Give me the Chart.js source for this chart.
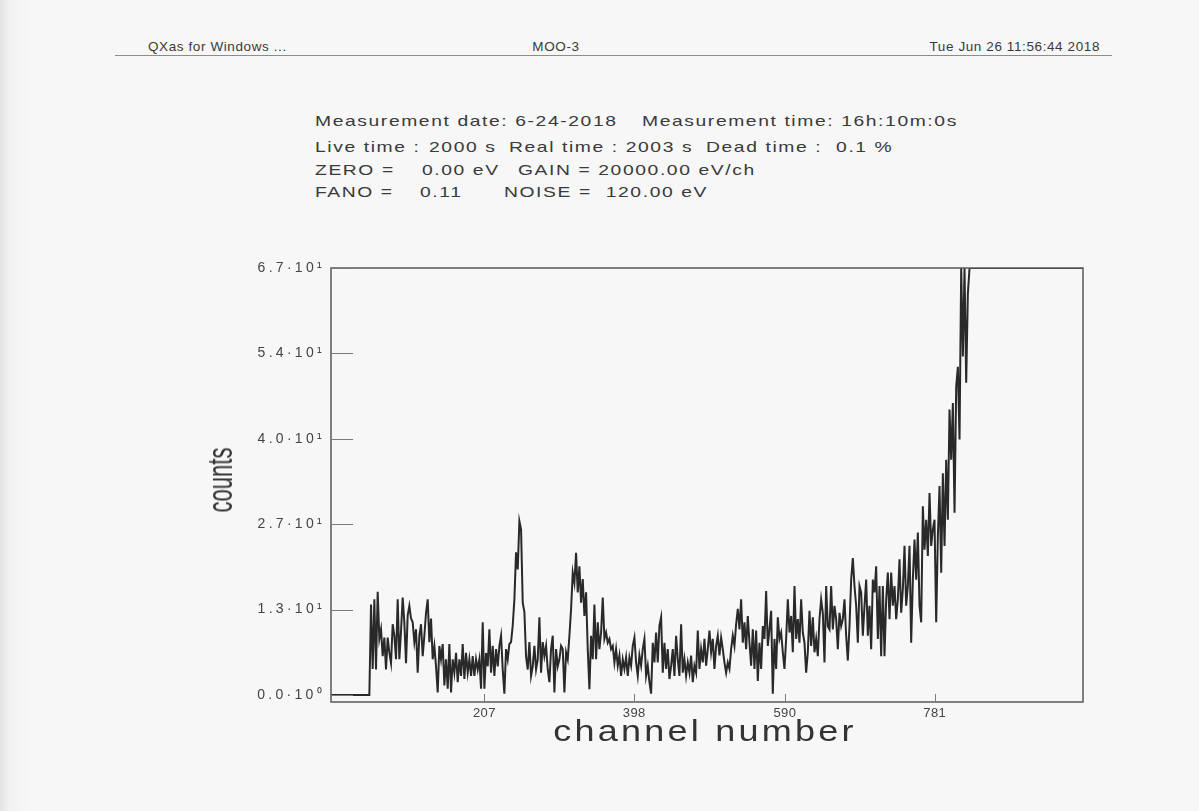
<!DOCTYPE html>
<html>
<head>
<meta charset="utf-8">
<script src="https://cdn.jsdelivr.net/npm/chart.js@4.4.1/dist/chart.umd.min.js"></script>
<style>
body { margin: 0; background: #f6f7f6; }
#hoja { position: relative; width: 1199px; height: 811px; overflow: hidden;
        font-family: "Liberation Sans", Arial, sans-serif; color: #3a3a3a;
        background: linear-gradient(to right, #e2e3e2 0, #f1f2f1 10px, #f6f7f6 30px); }
#hoja canvas { position: absolute; left: 0; top: 0; }
.t { position: absolute; white-space: pre; line-height: 16px; }
.cab { font-size: 13.5px; letter-spacing: 0.6px; top: 39px; }
.info { font-size: 14.5px; letter-spacing: 1.2px; transform: scaleX(1.33); transform-origin: 0 50%; }
.linea { position: absolute; left: 115px; top: 55px; width: 997px; border-top: 1.5px solid #8c8c8c; }
#tituloY { position: absolute; left: 220px; top: 480px; font-size: 35px; color: #333; white-space: pre;
           transform: translate(-50%, -50%) rotate(-90deg) scaleX(0.63); }
#tituloX { position: absolute; left: 705px; top: 731px; font-size: 30px; color: #333; letter-spacing: 2.7px; white-space: pre;
           transform: translate(-50%, -50%) scaleX(1.2); }
</style>
</head>
<body>
<div id="hoja">
  <div class="t cab" style="left:148px">QXas for Windows ...</div>
  <div class="t cab" style="left:556px; transform:translateX(-50%)">MOO-3</div>
  <div class="t cab" style="right:99px">Tue Jun 26 11:56:44 2018</div>
  <div class="linea"></div>

  <div class="t info" style="left:315px; top:113px">Measurement date: 6-24-2018</div>
  <div class="t info" style="left:642px; top:113px">Measurement time: 16h:10m:0s</div>
  <div class="t info" style="left:315px; top:139px">Live time :</div>
  <div class="t info" style="left:429px; top:139px">2000 s</div>
  <div class="t info" style="left:509px; top:139px">Real time : 2003 s</div>
  <div class="t info" style="left:706px; top:139px">Dead time :  0.1 %</div>
  <div class="t info" style="left:315px; top:162px">ZERO =</div>
  <div class="t info" style="left:422px; top:162px">0.00 eV</div>
  <div class="t info" style="left:518px; top:162px">GAIN = 20000.00 eV/ch</div>
  <div class="t info" style="left:315px; top:184px">FANO =</div>
  <div class="t info" style="left:420px; top:184px">0.11</div>
  <div class="t info" style="left:504px; top:184px">NOISE =  120.00 eV</div>

  <canvas id="espectro" width="1199" height="811"></canvas>
  <div id="tituloY">counts</div>
  <div id="tituloX">channel number</div>
</div>

<script>
// espectro: un valor por paso de canal, empezando en canalInicio
const canalInicio = 11.5;
const pasoCanal = 2.125;
const cuentas = [
    0, 0, 0, 0, 0, 0, 0, 0, 0, 0, 0, 0, 0, 0, 0, 0, 0, 0, 0, 0, 0, 0, 0, 0,
    14.2, 4.1, 15.0, 4.0, 16.2, 8.8, 10.3, 6.1, 9.0, 4.0,
    9.0, 6.6, 5.0, 11.1, 9.3, 5.6, 15.0, 5.6, 10.0, 15.3,
    11.4, 5.0, 12.5, 14.0, 12.0, 11.4, 8.3, 10.3, 3.5, 9.3,
    11.1, 6.1, 9.3, 12.9, 15.0, 8.3, 12.0, 5.6, 7.7, 4.5,
    0.4, 7.7, 5.6, 8.0, 1.5, 5.6, 1.0, 8.0, 0.4, 5.6,
    3.5, 6.6, 2.0, 5.6, 3.0, 8.0, 2.5, 6.6, 3.5, 5.6,
    3.0, 6.1, 3.0, 5.6, 4.0, 5.6, 1.0, 11.4, 1.0, 6.6,
    4.5, 10.3, 3.5, 7.7, 3.0, 7.2, 4.5, 7.7, 9.3, 4.0,
    0.2, 7.2, 5.6, 8.0, 8.3, 10.9, 15.0, 22.4, 19.7, 27.3,
    26.0, 14.5, 13.0, 6.0, 4.0, 8.3, 3.0, 4.5, 7.7, 4.0,
    5.6, 12.2, 3.5, 8.3, 6.1, 7.7, 4.0, 2.0, 7.2, 9.3,
    0.4, 7.2, 4.5,
    5.6, 7.7, 7.2, 0.4, 6.7, 5.6, 9.3, 13.5, 19.2, 17.6,
    22.3, 16.1, 20.2, 14.5, 18.2, 12.4, 16.1, 7.2, 0.9, 9.3,
    5.6, 14.2, 5.6, 11.4, 7.2, 9.8, 15.3, 8.8, 9.8, 8.2,
    8.8, 7.2, 7.7, 5.1, 7.2, 4.6, 6.2, 3.0, 5.6, 4.1,
    5.9, 3.0, 5.9, 4.6, 7.7, 9.0, 5.1, 3.0, 6.2, 4.6,
    7.2, 8.8, 3.0, 4.6, 2.0, 0.2, 8.2, 5.1, 9.8, 5.1,
    10.9, 12.2, 3.5, 8.2, 4.1, 7.2, 2.5, 4.6, 7.2, 3.0,
    9.3, 5.6, 3.0, 11.1, 3.5, 5.6, 3.0, 5.1, 3.5, 6.2,
    2.0, 4.6, 3.5, 10.1, 4.1, 7.2, 5.1, 8.8, 4.6, 7.2,
    10.1, 6.7, 8.8, 4.1, 7.7, 9.3, 6.2, 9.0, 7.2, 5.1,
    3.5, 5.1, 4.1, 7.2, 9.3, 7.7, 11.1, 13.5, 10.3, 15.0,
    8.2, 11.4, 7.2, 12.4, 8.2, 4.6, 10.3,
    4.1, 10.1, 2.2, 8.2, 4.1, 10.8, 8.8, 16.3, 7.7, 10.3,
    13.2, 0.2, 8.8, 4.1, 12.2, 8.8, 9.8, 6.7, 4.1, 8.8,
    15.0, 9.8, 12.4, 6.7, 17.1, 8.8, 11.9, 8.2, 15.0, 9.8,
    8.2, 3.5, 6.7, 13.2, 7.7, 12.2, 6.7, 8.8, 6.1, 11.9,
    15.0, 12.9, 5.1, 17.1, 10.8, 10.3, 17.1, 10.3, 14.0, 11.9,
    7.2, 12.9, 10.8, 11.9, 15.0, 9.3, 5.4, 10.8, 18.1, 21.5,
    17.1, 14.0, 8.2, 17.1, 16.1, 9.3, 14.0, 18.1, 9.3, 14.0,
    7.2, 18.1, 16.1, 20.2, 8.8, 17.1, 6.1, 17.1, 6.1, 15.0,
    19.2, 11.9, 19.2, 14.0, 17.1, 11.9, 15.0, 21.3, 12.9, 16.6,
    23.4, 14.0, 17.1, 23.4, 8.2, 18.1, 24.4, 18.1, 25.5, 14.0,
    11.4, 29.6, 22.8, 27.5, 21.8, 31.7, 23.4, 26.0, 27.5, 11.4,
    24.9, 32.8, 19.2, 34.8, 23.4, 36.9, 27.5,
    44.8, 36.9, 45.8, 28.6, 48.4, 51.5, 40.1, 70, 53.1, 75, 49, 63, 72,
    80, 76, 88, 84, 95, 90, 102, 98, 110, 104, 118, 112, 125, 120, 130, 127, 138, 133, 145, 140,
    150, 146, 158, 152, 165, 160, 170, 166, 178, 172, 185, 180, 190, 186, 196, 192, 204, 198, 210, 206,
    215, 211, 220, 216, 226, 221, 232, 227, 238, 233, 243, 239, 248, 244, 252, 249, 256, 253, 260, 257,
    263, 260, 266, 262, 268, 265, 270, 268
];

const ticksX = [207, 398, 590, 781];
const ticksY = [0, 13.4, 26.8, 40.2, 53.6, 67];
const etiquetasY = ['0.0·10⁰', '1.3·10¹', '2.7·10¹', '4.0·10¹', '5.4·10¹', '6.7·10¹'];
const rangoX = [11.5, 970];
const rangoY = [-1.1, 67];

(function() {
    const ctx = document.getElementById('espectro').getContext('2d');

    // el programa original recorta los picos contra el borde superior
    const puntos = cuentas.map((c, i) => ({ x: canalInicio + i * pasoCanal, y: Math.min(c, rangoY[1]) }));

    const marco = {
        id: 'marco',
        beforeDraw(chart) { chart.ctx.letterSpacing = '3.3px'; },
        beforeDatasetsDraw(chart) { chart.ctx.letterSpacing = '0.4px'; },
        afterDraw(chart) {
            const { ctx, chartArea: a, scales: { x, y } } = chart;
            ctx.save();
            ctx.strokeStyle = '#5a5a5a';
            ctx.lineWidth = 1.5;
            ctx.strokeRect(a.left, a.top, a.right - a.left, a.bottom - a.top);
            ctx.strokeStyle = '#7a7a7a';
            ctx.lineWidth = 1;
            ticksY.forEach(v => {
                const py = Math.round(y.getPixelForValue(v)) + 0.5;
                ctx.beginPath(); ctx.moveTo(a.left, py); ctx.lineTo(a.left + 22, py); ctx.stroke();
            });
            ticksX.forEach(v => {
                const px = Math.round(x.getPixelForValue(v)) + 0.5;
                ctx.beginPath(); ctx.moveTo(px, a.bottom); ctx.lineTo(px, a.bottom - 8); ctx.stroke();
            });
            ctx.restore();
            ctx.letterSpacing = '0px';
        }
    };

    new Chart(ctx, {
        type: 'line',
        data: {
            datasets: [{
                data: puntos,
                borderColor: '#292929',
                borderWidth: 2,
                pointRadius: 0,
                tension: 0,
                fill: false
            }]
        },
        options: {
            responsive: false,
            animation: false,
            events: [],
            layout: { padding: { left: 200, right: 116, top: 268, bottom: 69 } },
            scales: {
                x: {
                    type: 'linear',
                    min: rangoX[0],
                    max: rangoX[1],
                    afterBuildTicks: s => { s.ticks = ticksX.map(v => ({ value: v })); },
                    afterFit: s => { s.height = 40; },
                    grid: { display: false, drawTicks: false },
                    border: { display: false },
                    ticks: {
                        z: 1,
                        color: '#444',
                        font: { family: 'Liberation Sans', size: 13 },
                        padding: 4,
                        maxRotation: 0,
                        autoSkip: false,
                        callback: v => String(v)
                    }
                },
                y: {
                    type: 'linear',
                    min: rangoY[0],
                    max: rangoY[1],
                    afterBuildTicks: s => { s.ticks = ticksY.map(v => ({ value: v })); },
                    afterFit: s => { s.width = 131; },
                    grid: { display: false, drawTicks: false },
                    border: { display: false },
                    ticks: {
                        color: '#444',
                        font: { family: 'Liberation Sans', size: 14 },
                        padding: 6,
                        autoSkip: false,
                        callback: v => etiquetasY[ticksY.indexOf(v)]
                    }
                }
            },
            plugins: {
                legend: { display: false },
                tooltip: { enabled: false }
            }
        },
        plugins: [marco]
    });
})();
</script>
</body>
</html>
